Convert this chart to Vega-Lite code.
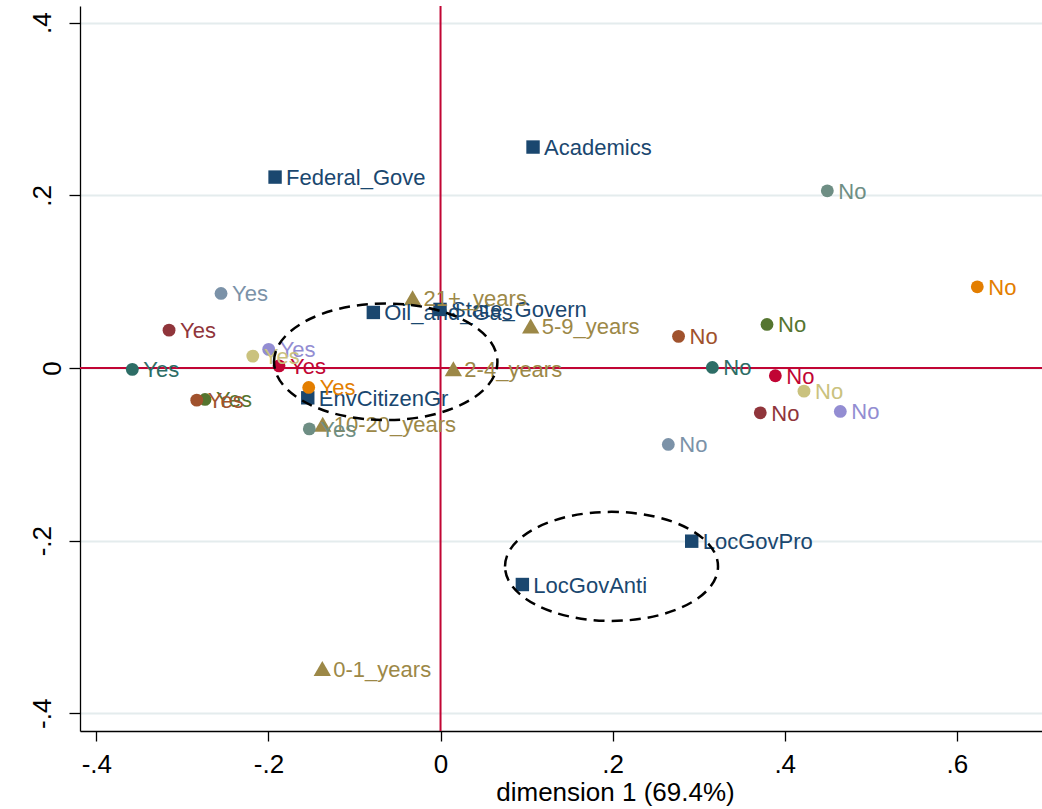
{
  "$schema": "https://vega.github.io/schema/vega-lite/v6.json",
  "width": 962,
  "height": 725,
  "autosize": {"type": "none"},
  "padding": {"left": 80, "top": 6, "right": 0, "bottom": 78},
  "background": "white",
  "config": {"view": {"stroke": null}, "font": "Liberation Sans"},
  "datasets": {
    "pts": [
      {"label": "Academics", "set": "stakeholder", "var": "stakeholder", "x": 0.1075, "y": 0.2560},
      {"label": "Federal_Gove", "set": "stakeholder", "var": "stakeholder", "x": -0.1923, "y": 0.2212},
      {"label": "Oil_and_Gas", "set": "stakeholder", "var": "stakeholder", "x": -0.0781, "y": 0.0644},
      {"label": "State_Govern", "set": "stakeholder", "var": "stakeholder", "x": -0.0006, "y": 0.0679},
      {"label": "EnvCitizenGr", "set": "stakeholder", "var": "stakeholder", "x": -0.1543, "y": -0.0345},
      {"label": "LocGovPro", "set": "stakeholder", "var": "stakeholder", "x": 0.2919, "y": -0.2006},
      {"label": "LocGovAnti", "set": "stakeholder", "var": "stakeholder", "x": 0.0951, "y": -0.2508},
      {"label": "21+_years", "set": "experience", "var": "experience", "x": -0.0325, "y": 0.0813},
      {"label": "5-9_years", "set": "experience", "var": "experience", "x": 0.1048, "y": 0.0486},
      {"label": "2-4_years", "set": "experience", "var": "experience", "x": 0.0149, "y": -0.0009},
      {"label": "10-20_years", "set": "experience", "var": "experience", "x": -0.1369, "y": -0.0650},
      {"label": "0-1_years", "set": "experience", "var": "experience", "x": -0.1374, "y": -0.3481},
      {"label": "Yes", "set": "response", "var": "q1", "x": -0.3155, "y": 0.0439},
      {"label": "No", "set": "response", "var": "q1", "x": 0.3716, "y": -0.0519},
      {"label": "Yes", "set": "response", "var": "q2", "x": -0.2737, "y": -0.0364},
      {"label": "No", "set": "response", "var": "q2", "x": 0.3794, "y": 0.0505},
      {"label": "Yes", "set": "response", "var": "q3", "x": -0.1532, "y": -0.0225},
      {"label": "No", "set": "response", "var": "q3", "x": 0.6238, "y": 0.0941},
      {"label": "Yes", "set": "response", "var": "q4", "x": -0.1525, "y": -0.0705},
      {"label": "No", "set": "response", "var": "q4", "x": 0.4495, "y": 0.2053},
      {"label": "Yes", "set": "response", "var": "q5", "x": -0.1877, "y": 0.0025},
      {"label": "No", "set": "response", "var": "q5", "x": 0.3891, "y": -0.0090},
      {"label": "Yes", "set": "response", "var": "q6", "x": -0.1997, "y": 0.0216},
      {"label": "No", "set": "response", "var": "q6", "x": 0.4646, "y": -0.0503},
      {"label": "Yes", "set": "response", "var": "q7", "x": -0.2182, "y": 0.0138},
      {"label": "No", "set": "response", "var": "q7", "x": 0.4224, "y": -0.0268},
      {"label": "Yes", "set": "response", "var": "q8", "x": -0.2833, "y": -0.0372},
      {"label": "No", "set": "response", "var": "q8", "x": 0.2766, "y": 0.0367},
      {"label": "Yes", "set": "response", "var": "q9", "x": -0.2551, "y": 0.0864},
      {"label": "No", "set": "response", "var": "q9", "x": 0.2647, "y": -0.0885},
      {"label": "Yes", "set": "response", "var": "q10", "x": -0.3582, "y": -0.0016},
      {"label": "No", "set": "response", "var": "q10", "x": 0.3159, "y": 0.0007}
    ],
    "ell": [
      {"id": "A", "x": -0.0637, "y": 0.0072},
      {"id": "B", "x": 0.1987, "y": -0.2298}
    ]
  },
  "layer": [
    {
      "data": {"values": [{"x": 0}]},
      "mark": {"type": "rule", "color": "#c10534", "strokeWidth": 2},
      "encoding": {
        "x": {"field": "x", "type": "quantitative", "title": "dimension 1 (69.4%)", "scale": {"domain": [-0.419, 0.699], "nice": false, "zero": false}}
      }
    },
    {
      "data": {"values": [{"y": 0}]},
      "mark": {"type": "rule", "color": "#c10534", "strokeWidth": 2},
      "encoding": {
        "y": {"field": "y", "type": "quantitative", "title": null, "scale": {"domain": [-0.4205, 0.4194], "nice": false, "zero": false}}
      }
    },
    {
      "data": {"name": "pts"},
      "mark": {"type": "point", "filled": true, "opacity": 1, "strokeWidth": 0},
      "encoding": {
        "x": {
          "field": "x", "type": "quantitative", "title": "dimension 1 (69.4%)",
          "scale": {"domain": [-0.419, 0.699], "nice": false, "zero": false},
          "axis": {
            "values": [-0.4, -0.2, 0, 0.2, 0.4, 0.6],
            "labelExpr": "datum.value == 0 ? '0' : (datum.value < 0 ? '-' : '') + '.' + format(abs(datum.value) * 10, '.0f')",
            "grid": false,
            "domainColor": "black", "domainWidth": 1.3,
            "tickColor": "black", "tickWidth": 1.3, "tickSize": 10,
            "labelFont": "Liberation Sans", "labelFontSize": 26, "labelColor": "black",
            "labelBaseline": "alphabetic", "labelPadding": 31,
            "labelOverlap": false, "labelFlush": false, "labelBound": false,
            "titleFont": "Liberation Sans", "titleFontSize": 26, "titleFontWeight": "normal", "titleColor": "black",
            "titleBaseline": "alphabetic", "titleAlign": "center", "titleX": 535, "titleY": 69
          }
        },
        "y": {
          "field": "y", "type": "quantitative", "title": null,
          "scale": {"domain": [-0.4205, 0.4194], "nice": false, "zero": false},
          "axis": {
            "values": [-0.4, -0.2, 0, 0.2, 0.4],
            "labelExpr": "datum.value == 0 ? '0' : (datum.value < 0 ? '-' : '') + '.' + format(abs(datum.value) * 10, '.0f')",
            "grid": true, "gridColor": "#e4eced", "gridWidth": 2,
            "domainColor": "black", "domainWidth": 1.3,
            "tickColor": "black", "tickWidth": 1.3, "tickSize": 11,
            "labelFont": "Liberation Sans", "labelFontSize": 26, "labelColor": "black",
            "labelAngle": 270, "labelAlign": "center", "labelBaseline": "alphabetic",
            "labelPadding": {"condition": {"test": "datum.value == 0", "value": 9}, "value": 19},
            "labelOverlap": false, "labelFlush": false, "labelBound": false
          }
        },
        "shape": {"field": "set", "type": "nominal", "scale": {"domain": ["stakeholder", "experience", "response"], "range": ["square", "triangle-up", "circle"]}, "legend": null},
        "size": {"field": "set", "type": "nominal", "scale": {"type": "ordinal", "domain": ["stakeholder", "experience", "response"], "range": [180, 300, 165]}, "legend": null},
        "color": {"field": "var", "type": "nominal", "scale": {"domain": ["stakeholder", "experience", "q1", "q2", "q3", "q4", "q5", "q6", "q7", "q8", "q9", "q10"], "range": ["#1a476f", "#9c8847", "#90353b", "#55752f", "#e37e00", "#6e8e84", "#c10534", "#938dd2", "#cac27e", "#a0522d", "#7b92a8", "#2d6d66"]}, "legend": null}
      }
    },
    {
      "data": {"name": "pts"},
      "mark": {"type": "text", "align": "left", "baseline": "alphabetic", "dx": 11, "dy": 8, "font": "Liberation Sans", "fontSize": 22},
      "encoding": {
        "x": {"field": "x", "type": "quantitative", "title": "dimension 1 (69.4%)", "scale": {"domain": [-0.419, 0.699], "nice": false, "zero": false}},
        "y": {"field": "y", "type": "quantitative", "title": null, "scale": {"domain": [-0.4205, 0.4194], "nice": false, "zero": false}},
        "text": {"field": "label"},
        "color": {"field": "var", "type": "nominal", "scale": {"domain": ["stakeholder", "experience", "q1", "q2", "q3", "q4", "q5", "q6", "q7", "q8", "q9", "q10"], "range": ["#1a476f", "#9c8847", "#90353b", "#55752f", "#e37e00", "#6e8e84", "#c10534", "#938dd2", "#cac27e", "#a0522d", "#7b92a8", "#2d6d66"]}, "legend": null}
      }
    },
    {
      "data": {"name": "ell"},
      "transform": [{"filter": "datum.id == 'A'"}],
      "mark": {
        "type": "point", "filled": false, "opacity": 1, "stroke": "black", "strokeWidth": 2.5, "strokeDash": [11, 7],
        "size": 49908,
        "shape": "M -1 0 C -1 -0.2883 -0.5523 -0.522 0 -0.522 C 0.5523 -0.522 1 -0.2883 1 0 C 1 0.2883 0.5523 0.522 0 0.522 C -0.5523 0.522 -1 0.2883 -1 0 Z"
      },
      "encoding": {
        "x": {"field": "x", "type": "quantitative", "title": "dimension 1 (69.4%)", "scale": {"domain": [-0.419, 0.699], "nice": false, "zero": false}},
        "y": {"field": "y", "type": "quantitative", "title": null, "scale": {"domain": [-0.4205, 0.4194], "nice": false, "zero": false}}
      }
    },
    {
      "data": {"name": "ell"},
      "transform": [{"filter": "datum.id == 'B'"}],
      "mark": {
        "type": "point", "filled": false, "opacity": 1, "stroke": "black", "strokeWidth": 2.5, "strokeDash": [11, 7],
        "size": 45369,
        "shape": "M -1 0 C -1 -0.2828 -0.5523 -0.512 0 -0.512 C 0.5523 -0.512 1 -0.2828 1 0 C 1 0.2828 0.5523 0.512 0 0.512 C -0.5523 0.512 -1 0.2828 -1 0 Z"
      },
      "encoding": {
        "x": {"field": "x", "type": "quantitative", "title": "dimension 1 (69.4%)", "scale": {"domain": [-0.419, 0.699], "nice": false, "zero": false}},
        "y": {"field": "y", "type": "quantitative", "title": null, "scale": {"domain": [-0.4205, 0.4194], "nice": false, "zero": false}}
      }
    }
  ]
}
